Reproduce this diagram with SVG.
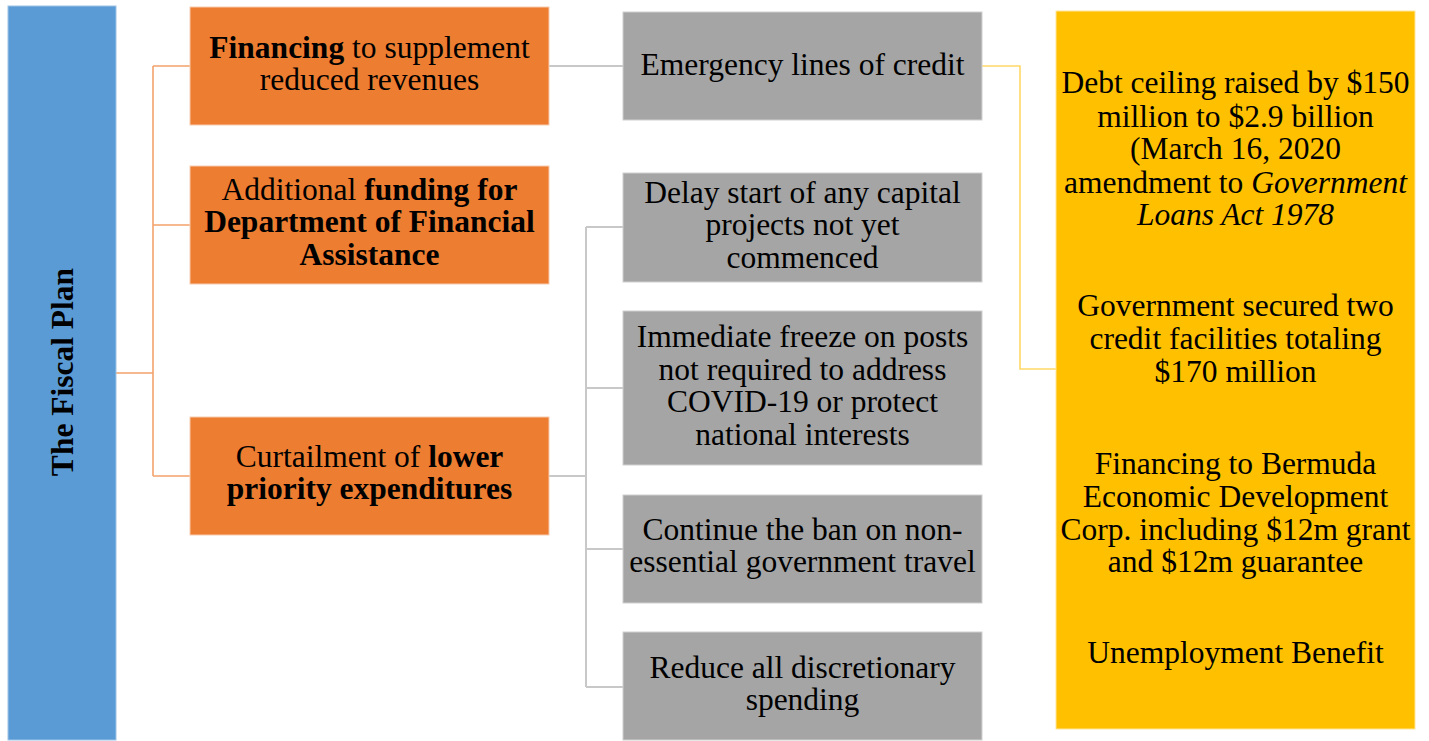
<svg xmlns="http://www.w3.org/2000/svg" width="1429" height="741" viewBox="0 0 1429 741">
<style>
text{font-family:"Liberation Serif","Times New Roman",serif;font-size:31.5px;fill:#000;text-anchor:middle}
.b{font-weight:bold}
.i{font-style:italic}
.blue{fill:#5B9BD5;stroke:#9DC3E6;stroke-width:1}
.org{fill:#ED7D31;stroke:#F8CBAD;stroke-width:1}
.gry{fill:#A5A5A5;stroke:#D0D0D0;stroke-width:1}
.yel{fill:#FFC000;stroke:#FFE699;stroke-width:1}
.co{fill:none;stroke:#F4A36B;stroke-width:1.6}
.cg{fill:none;stroke:#C8C8C8;stroke-width:2}
.cy{fill:none;stroke:#FFD966;stroke-width:1.6}
</style>
<rect width="1429" height="741" fill="#fff"/>
<g id="connectors">
<path class="co" d="M116 373H153M153 66V476M153 66H190M153 225H190M153 476H190"/>
<path class="cg" d="M549 66H623"/>
<path class="cg" d="M549 476H586M586 227V687M586 227H623M586 388H623M586 549H623M586 687H623"/>
<path class="cy" d="M982 66H1020V369H1056"/>
</g>
<g id="fiscal-plan">
<rect class="blue" x="8" y="6" width="108" height="734"/>
<text class="b" x="73" y="372" transform="rotate(-90 73 372)">The Fiscal Plan</text>
</g>
<g id="financing">
<rect class="org" x="190" y="7" width="359" height="118"/>
<text x="369.5" y="58"><tspan class="b">Financing</tspan> to supplement</text>
<text x="369.5" y="90">reduced revenues</text>
</g>
<g id="funding">
<rect class="org" x="190" y="166" width="359" height="118"/>
<text x="369.5" y="200">Additional <tspan class="b">funding for</tspan></text>
<text class="b" x="369.5" y="232">Department of Financial</text>
<text class="b" x="369.5" y="265">Assistance</text>
</g>
<g id="curtailment">
<rect class="org" x="190" y="417" width="359" height="118"/>
<text x="369.5" y="467">Curtailment of <tspan class="b">lower</tspan></text>
<text class="b" x="369.5" y="499">priority expenditures</text>
</g>
<g id="emergency">
<rect class="gry" x="623" y="12" width="359" height="108"/>
<text x="802.5" y="75">Emergency lines of credit</text>
</g>
<g id="delay">
<rect class="gry" x="623" y="173" width="359" height="109"/>
<text x="802.5" y="203">Delay start of any capital</text>
<text x="802.5" y="235">projects not yet</text>
<text x="802.5" y="268">commenced</text>
</g>
<g id="freeze">
<rect class="gry" x="623" y="311" width="359" height="154"/>
<text x="802.5" y="347">Immediate freeze on posts</text>
<text x="802.5" y="379.5">not required to address</text>
<text x="802.5" y="412">COVID-19 or protect</text>
<text x="802.5" y="445">national interests</text>
</g>
<g id="travel">
<rect class="gry" x="623" y="495" width="359" height="108"/>
<text x="802.5" y="540">Continue the ban on non-</text>
<text x="802.5" y="572">essential government travel</text>
</g>
<g id="discretionary">
<rect class="gry" x="623" y="632" width="359" height="108"/>
<text x="802.5" y="678">Reduce all discretionary</text>
<text x="802.5" y="710">spending</text>
</g>
<g id="measures">
<rect class="yel" x="1056" y="11" width="359" height="718"/>
<text x="1235.5" y="93">Debt ceiling raised by $150</text>
<text x="1235.5" y="126.5">million to $2.9 billion</text>
<text x="1235.5" y="159">(March 16, 2020</text>
<text x="1235.5" y="192.5">amendment to <tspan class="i">Government</tspan></text>
<text class="i" x="1235.5" y="225">Loans Act 1978</text>
<text x="1235.5" y="316">Government secured two</text>
<text x="1235.5" y="348.5">credit facilities totaling</text>
<text x="1235.5" y="381.5">$170 million</text>
<text x="1235.5" y="474">Financing to Bermuda</text>
<text x="1235.5" y="507">Economic Development</text>
<text x="1235.5" y="539.5">Corp. including $12m grant</text>
<text x="1235.5" y="572">and $12m guarantee</text>
<text x="1235.5" y="663">Unemployment Benefit</text>
</g>
</svg>
